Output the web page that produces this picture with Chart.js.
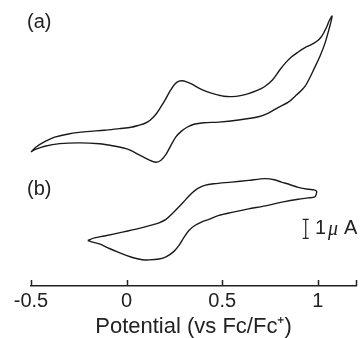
<!DOCTYPE html>
<html>
<head>
<meta charset="utf-8">
<script src="https://cdn.jsdelivr.net/npm/chart.js@4.4.1/dist/chart.umd.min.js"></script>
<style>
  html, body { margin: 0; padding: 0; background: #fff; }
  #wrap { width: 361px; height: 338px; }
</style>
</head>
<body>
<div id="wrap"><canvas id="cv"></canvas></div>
<script>
// (a) barrido: rama de ida (izq -> der) y regreso (der -> izq)
const potencialA = [-0.500, -0.475, -0.428, -0.376, -0.298, -0.210, -0.116, -0.038, 0.024, 0.066,
  0.097, 0.123, 0.149, 0.175, 0.201, 0.227, 0.253, 0.274, 0.290, 0.310,
  0.342, 0.378, 0.420, 0.461, 0.508, 0.550, 0.596, 0.638, 0.680, 0.721,
  0.763, 0.799, 0.830, 0.862, 0.893, 0.929, 0.966, 0.997, 1.018, 1.033,
  1.049, 1.059, 1.075,
  1.062, 1.038, 1.012, 0.985, 0.934, 0.888, 0.846, 0.794, 0.742, 0.690,
  0.586, 0.482, 0.404, 0.352, 0.316, 0.284, 0.257, 0.232, 0.206, 0.180,
  0.154, 0.128, 0.101, 0.066, 0.030, -0.003, -0.074, -0.142, -0.246, -0.350,
  -0.428, -0.480, -0.500];
const corrienteA = [7.04, 7.29, 7.58, 7.82, 8.00, 8.11, 8.18, 8.27, 8.34, 8.45,
  8.55, 8.71, 8.97, 9.34, 9.76, 10.24, 10.61, 10.76, 10.78, 10.74,
  10.61, 10.39, 10.21, 10.08, 9.97, 9.95, 10.00, 10.11, 10.26, 10.47,
  10.82, 11.32, 11.71, 12.03, 12.26, 12.50, 12.68, 12.87, 13.08, 13.34,
  13.66, 13.92, 14.18,
  13.61, 12.76, 12.08, 11.50, 10.50, 10.03, 9.66, 9.39, 9.08, 8.89,
  8.72, 8.61, 8.58, 8.50, 8.34, 8.11, 7.82, 7.39, 6.92, 6.61,
  6.50, 6.58, 6.71, 6.89, 7.08, 7.22, 7.37, 7.47, 7.52, 7.48,
  7.34, 7.16, 7.04];

// (b)
const potencialB = [-0.203, -0.168, -0.116, -0.022, 0.066, 0.134, 0.170, 0.206, 0.238, 0.274,
  0.310, 0.342, 0.373, 0.409, 0.456, 0.550, 0.638, 0.725, 0.773, 0.810,
  0.856, 0.898, 0.950, 0.981, 0.994,
  0.992, 0.985, 0.950, 0.898, 0.820, 0.725, 0.638, 0.551, 0.482, 0.430,
  0.394, 0.357, 0.326, 0.300, 0.274, 0.248, 0.206, 0.170, 0.118, 0.082,
  0.040, -0.002, -0.048, -0.090, -0.142, -0.184, -0.203];
const corrienteB = [2.39, 2.53, 2.63, 2.83, 3.03, 3.21, 3.32, 3.50, 3.79, 4.16,
  4.55, 4.89, 5.13, 5.29, 5.37, 5.46, 5.55, 5.64, 5.58, 5.46,
  5.32, 5.18, 5.08, 5.05, 4.97,
  4.82, 4.68, 4.63, 4.56, 4.42, 4.21, 4.05, 3.87, 3.71, 3.50,
  3.37, 3.18, 2.92, 2.55, 2.13, 1.82, 1.53, 1.42, 1.37, 1.38,
  1.47, 1.61, 1.79, 1.97, 2.21, 2.32, 2.39];

const marcasX = [-0.5, 0, 0.5, 1];
const finEje = 1.2;
const etiquetas = ['(a)', '(b)'];
const barraEscala = [2.5, 3.5]; // 1 uA
const tituloX = 'Potential (vs Fc/Fc\u207a)';

const fuente = '"Liberation Sans", Arial, sans-serif';
const puntos = (xs, ys) => xs.map((x, i) => ({ x: x, y: ys[i] }));

const extras = {
  id: 'extras',
  afterDraw(chart) {
    const { ctx, chartArea, scales: { x, y } } = chart;
    ctx.save();
    ctx.strokeStyle = '#222';
    ctx.fillStyle = '#222';
    // marcas hacia arriba
    ctx.lineWidth = 1.5;
    [...marcasX, finEje].forEach(v => {
      const px = Math.round(x.getPixelForValue(v)) + 0.5;
      ctx.beginPath();
      ctx.moveTo(px, chartArea.bottom);
      ctx.lineTo(px, chartArea.bottom - 6);
      ctx.stroke();
    });
    // (a) (b)
    ctx.font = '20px ' + fuente;
    ctx.textBaseline = 'middle';
    ctx.textAlign = 'left';
    ctx.fillText(etiquetas[0], 27, 22);
    ctx.fillText(etiquetas[1], 27, 189);
    // barra de escala
    const bx = x.getPixelForValue(0.937);
    const y0 = y.getPixelForValue(barraEscala[0]);
    const y1 = y.getPixelForValue(barraEscala[1]);
    ctx.lineWidth = 1.2;
    ctx.beginPath();
    ctx.moveTo(bx, y0); ctx.lineTo(bx, y1);
    ctx.moveTo(bx - 3, y0); ctx.lineTo(bx + 3, y0);
    ctx.moveTo(bx - 3, y1); ctx.lineTo(bx + 3, y1);
    ctx.stroke();
    const ty = y.getPixelForValue((barraEscala[0] + barraEscala[1]) / 2);
    ctx.fillText('1', 315, ty);
    ctx.font = 'italic 20px "Liberation Serif", "Times New Roman", serif';
    ctx.fillText('\u03bc', 328, ty + 1);
    ctx.font = '20px ' + fuente;
    ctx.fillText('A', 344, ty);
    ctx.restore();
  }
};

new Chart(document.getElementById('cv'), {
  type: 'scatter',
  data: {
    datasets: [
      { data: puntos(potencialA, corrienteA) },
      { data: puntos(potencialB, corrienteB) }
    ]
  },
  options: {
    responsive: true,
    maintainAspectRatio: false,
    animation: false,
    showLine: true,
    layout: { padding: { left: 31, right: 3, top: 10, bottom: 0 } },
    elements: {
      point: { radius: 0 },
      line: { borderColor: '#1a1a1a', borderWidth: 1.4, tension: 0.3, fill: false }
    },
    datasets: { scatter: { clip: false } },
    scales: {
      x: {
        type: 'linear',
        min: -0.5,
        max: finEje,
        afterBuildTicks: s => { s.ticks = [...marcasX, finEje].map(v => ({ value: v })); },
        grid: { display: false, drawTicks: false },
        border: { display: true, color: '#222', width: 1.5 },
        ticks: {
          padding: 5,
          color: '#222',
          font: { family: fuente, size: 20, lineHeight: 1 },
          maxRotation: 0,
          autoSkip: false,
          callback: v => marcasX.includes(v) ? String(v) : ''
        },
        title: {
          display: true,
          text: tituloX,
          color: '#222',
          font: { family: fuente, size: 22, lineHeight: 1 },
          padding: { top: 0, bottom: 0 }
        }
      },
      y: { display: false, min: 0, max: 14.5 }
    },
    plugins: { legend: { display: false }, tooltip: { enabled: false } }
  },
  plugins: [extras]
});
</script>
</body>
</html>
